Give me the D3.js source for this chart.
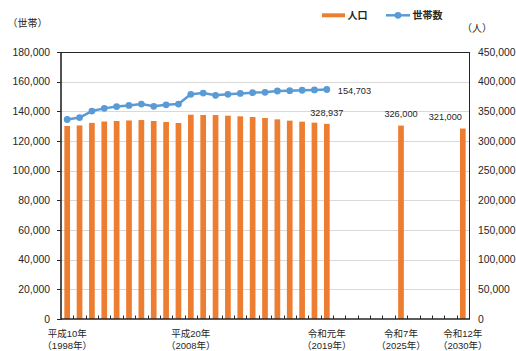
<!DOCTYPE html>
<html>
<head>
<meta charset="utf-8">
<script src="https://cdn.jsdelivr.net/npm/d3@7"></script>
<style>
  html, body { margin: 0; padding: 0; background: #fff; }
  svg { display: block; }
  text { font-family: "Liberation Sans", "Noto Sans CJK JP", sans-serif; fill: #262626; }
</style>
</head>
<body>
<svg id="chart" width="516" height="351"></svg>
<script>
// Years on the category axis (one slot per year)
const years = [1998, 1999, 2000, 2001, 2002, 2003, 2004, 2005, 2006, 2007, 2008,
  2009, 2010, 2011, 2012, 2013, 2014, 2015, 2016, 2017, 2018, 2019,
  2020, 2021, 2022, 2023, 2024, 2025, 2026, 2027, 2028, 2029, 2030];

// Population (人) — actual 1998–2019, projections for 2025 and 2030
const popYears = [1998, 1999, 2000, 2001, 2002, 2003, 2004, 2005, 2006, 2007, 2008,
  2009, 2010, 2011, 2012, 2013, 2014, 2015, 2016, 2017, 2018, 2019, 2025, 2030];
const population = [325300, 326200, 330500, 332800, 333700, 334600, 335300, 333700,
  332000, 330300, 344300, 343800, 343700, 342600, 341600, 340400, 338800, 336500,
  334300, 332600, 330900, 328937, 326000, 321000];

// Households (世帯) 1998–2019
const hhYears = [1998, 1999, 2000, 2001, 2002, 2003, 2004, 2005, 2006, 2007, 2008,
  2009, 2010, 2011, 2012, 2013, 2014, 2015, 2016, 2017, 2018, 2019];
const households = [134500, 135800, 140200, 142000, 143200, 144000, 144900, 143400,
  144400, 144900, 151500, 152300, 150800, 151500, 152100, 152600, 152800, 153700,
  153900, 154200, 154400, 154703];

// Category labels shown under the axis
const catLabelYears = [1998, 2008, 2019, 2025, 2030];
const catLabelEra = ["平成10年", "平成20年", "令和元年", "令和7年", "令和12年"];
const catLabelAD = ["（1998年）", "（2008年）", "（2019年）", "（2025年）", "（2030年）"];

// Value labels
const labelHouseholds = ["154,703"];
const labelPopYears = [2019, 2025, 2030];
const labelPop = ["328,937", "326,000", "321,000"];

const leftTicks = [0, 20000, 40000, 60000, 80000, 100000, 120000, 140000, 160000, 180000];
const rightTicks = [0, 50000, 100000, 150000, 200000, 250000, 300000, 350000, 400000, 450000];

const ORANGE = "#ED7D31", BLUE = "#5B9BD5";
const plotL = 61, plotR = 469, plotT = 52, plotB = 319;

const svg = d3.select("#chart");

const x = d3.scaleBand().domain(years).range([plotL, plotR]).paddingInner(0).paddingOuter(0);
const yL = d3.scaleLinear().domain([0, 180000]).range([plotB, plotT]);
const yR = d3.scaleLinear().domain([0, 450000]).range([plotB, plotT]);
const fmt = d3.format(",");
const cx = yr => x(yr) + x.bandwidth() / 2;

// Gridlines
svg.append("g").selectAll("line").data(leftTicks.slice(1)).join("line")
  .attr("x1", plotL).attr("x2", plotR)
  .attr("y1", d => Math.round(yL(d)) + 0.5).attr("y2", d => Math.round(yL(d)) + 0.5)
  .attr("stroke", "#d9d9d9").attr("stroke-width", 1);

// Population bars
const bw = x.bandwidth() * 0.46;
svg.append("g").selectAll("rect").data(popYears.map((yr, i) => ({ yr, v: population[i] }))).join("rect")
  .attr("x", d => cx(d.yr) - bw / 2)
  .attr("width", bw)
  .attr("y", d => yR(d.v))
  .attr("height", d => plotB - yR(d.v))
  .attr("fill", ORANGE);

// Household line with markers
const hh = hhYears.map((yr, i) => ({ yr, v: households[i] }));
const line = d3.line().x(d => cx(d.yr)).y(d => yL(d.v));
svg.append("path").datum(hh).attr("d", line)
  .attr("fill", "none").attr("stroke", BLUE).attr("stroke-width", 2.5).attr("stroke-linejoin", "round");
svg.append("g").selectAll("circle").data(hh).join("circle")
  .attr("cx", d => cx(d.yr)).attr("cy", d => yL(d.v))
  .attr("r", 3.4).attr("fill", BLUE);

// Frame
const frame = svg.append("g").attr("stroke", "#262626").attr("fill", "none");
frame.append("line").attr("x1", plotL).attr("x2", plotR).attr("y1", plotT + 0.5).attr("y2", plotT + 0.5).attr("stroke-width", 1);
frame.append("line").attr("x1", plotR + 0.5).attr("x2", plotR + 0.5).attr("y1", plotT).attr("y2", plotB).attr("stroke-width", 1);
frame.append("line").attr("x1", plotL).attr("x2", plotL).attr("y1", plotT).attr("y2", plotB + 1).attr("stroke-width", 1.6);
frame.append("line").attr("x1", plotL).attr("x2", plotR + 1).attr("y1", plotB).attr("y2", plotB).attr("stroke-width", 1.6);

// Category tick marks at slot boundaries (pointing inward)
frame.append("g").selectAll("line").data(years.slice(1)).join("line")
  .attr("x1", d => Math.round(x(d)) + 0.5).attr("x2", d => Math.round(x(d)) + 0.5)
  .attr("y1", plotB).attr("y2", plotB - 3.5).attr("stroke-width", 1);

// Left axis ticks and labels
frame.append("g").selectAll("line").data(leftTicks).join("line")
  .attr("x1", plotL - 4).attr("x2", plotL)
  .attr("y1", d => Math.round(yL(d)) + 0.5).attr("y2", d => Math.round(yL(d)) + 0.5).attr("stroke-width", 1);
svg.append("g").selectAll("text").data(leftTicks).join("text")
  .attr("x", 50).attr("y", d => yL(d)).attr("dy", "0.35em")
  .attr("text-anchor", "end").attr("font-size", 10.4).text(d => fmt(d));

// Right axis labels
svg.append("g").selectAll("text").data(rightTicks).join("text")
  .attr("x", 478).attr("y", d => yR(d)).attr("dy", "0.35em")
  .attr("text-anchor", "start").attr("font-size", 10.4).text(d => fmt(d));

// Axis unit titles
svg.append("text").attr("x", 27.5).attr("y", 23).attr("dy", "0.35em").attr("text-anchor", "middle")
  .attr("font-size", 10).text("（世帯）");
svg.append("text").attr("x", 477).attr("y", 28.5).attr("dy", "0.35em").attr("text-anchor", "middle")
  .attr("font-size", 10).text("（人）");

// Category labels
const cat = svg.append("g").selectAll("g").data(catLabelYears.map((yr, i) => ({ yr, i }))).join("g");
cat.append("text").attr("x", d => cx(d.yr)).attr("y", 333.5).attr("dy", "0.35em")
  .attr("text-anchor", "middle").attr("font-size", 9.5).text(d => catLabelEra[d.i]);
cat.append("text").attr("x", d => cx(d.yr)).attr("y", 345.5).attr("dy", "0.35em")
  .attr("text-anchor", "middle").attr("font-size", 9.5).text(d => catLabelAD[d.i]);

// Value labels
const lastHH = hh[hh.length - 1];
svg.append("text").attr("x", cx(lastHH.yr) + 11).attr("y", yL(lastHH.v) + 1)
  .attr("dy", "0.35em").attr("font-size", 9.2).text(labelHouseholds[0]);
const popLabelShift = [0, 0, -17.5];
svg.append("g").selectAll("text").data(labelPopYears.map((yr, i) => ({ yr, i }))).join("text")
  .attr("x", d => cx(d.yr) + popLabelShift[d.i])
  .attr("y", d => yR(population[popYears.indexOf(d.yr)]) - 11.5)
  .attr("dy", "0.35em").attr("text-anchor", "middle").attr("font-size", 9.2)
  .text(d => labelPop[d.i]);

// Legend
const lg = svg.append("g");
lg.append("rect").attr("x", 322).attr("y", 13.3).attr("width", 23).attr("height", 4).attr("fill", ORANGE);
lg.append("text").attr("x", 347.5).attr("y", 15.5).attr("dy", "0.35em").attr("font-size", 10)
  .attr("font-weight", "bold").text("人口");
lg.append("line").attr("x1", 386).attr("x2", 410).attr("y1", 15.3).attr("y2", 15.3)
  .attr("stroke", BLUE).attr("stroke-width", 2.5);
lg.append("circle").attr("cx", 398).attr("cy", 15.3).attr("r", 3.4).attr("fill", BLUE);
lg.append("text").attr("x", 412.5).attr("y", 15.5).attr("dy", "0.35em").attr("font-size", 10)
  .attr("font-weight", "bold").text("世帯数");
</script>
</body>
</html>
